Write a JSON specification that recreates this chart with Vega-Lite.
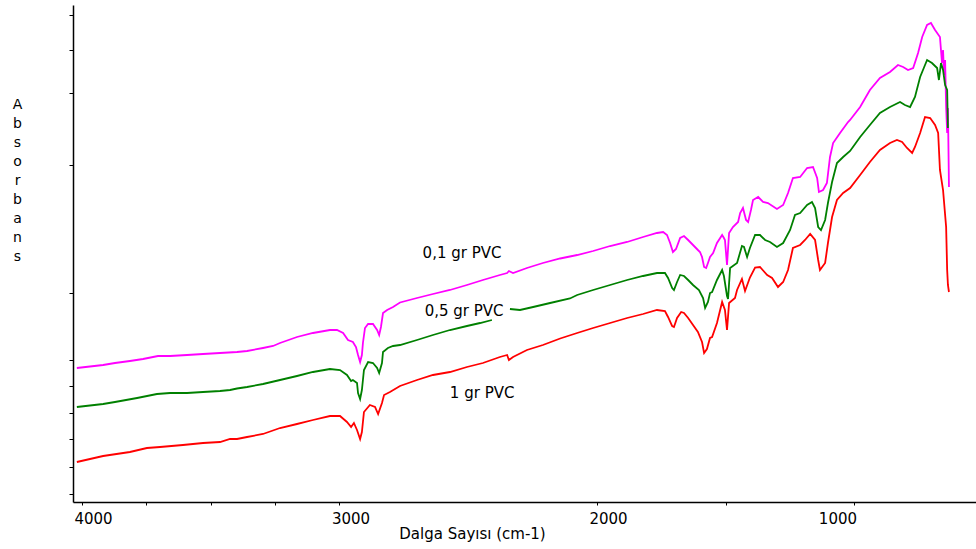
{
  "$schema": "https://vega.github.io/schema/vega-lite/v6.json",
  "width": 903,
  "height": 497,
  "autosize": "none",
  "padding": {"left": 73, "top": 5, "right": 0, "bottom": 47},
  "background": "white",
  "config": {"view": {"stroke": null}, "font": "DejaVu Sans"},
  "datasets": {
    "magenta": [
      {"wn":4020,"abs":134},{"wn":3918,"abs":137},{"wn":3872,"abs":139},{"wn":3814,"abs":141},{"wn":3763,"abs":143},{"wn":3705,"abs":146},{"wn":3658,"abs":146},{"wn":3592,"abs":147},{"wn":3530,"abs":148},{"wn":3464,"abs":149},{"wn":3398,"abs":150},{"wn":3359,"abs":151},{"wn":3297,"abs":154},{"wn":3258,"abs":156},{"wn":3231,"abs":159},{"wn":3165,"abs":165},{"wn":3103,"abs":169},{"wn":3037,"abs":172},{"wn":3010,"abs":172},{"wn":2986,"abs":169},{"wn":2967,"abs":162},{"wn":2948,"abs":160},{"wn":2936,"abs":155},{"wn":2928,"abs":147},{"wn":2920,"abs":140},{"wn":2913,"abs":147},{"wn":2909,"abs":159},{"wn":2901,"abs":174},{"wn":2889,"abs":178},{"wn":2870,"abs":178},{"wn":2854,"abs":172},{"wn":2846,"abs":167},{"wn":2839,"abs":175},{"wn":2831,"abs":189},{"wn":2815,"abs":192},{"wn":2792,"abs":195},{"wn":2765,"abs":199.5},{"wn":2699,"abs":204},{"wn":2637,"abs":208},{"wn":2571,"abs":212},{"wn":2505,"abs":217},{"wn":2443,"abs":222},{"wn":2377,"abs":227},{"wn":2349,"abs":229},{"wn":2342,"abs":231},{"wn":2326,"abs":229},{"wn":2272,"abs":234},{"wn":2210,"abs":239},{"wn":2143,"abs":243.5},{"wn":2077,"abs":247},{"wn":2015,"abs":251},{"wn":1949,"abs":256},{"wn":1883,"abs":260},{"wn":1821,"abs":265},{"wn":1767,"abs":269},{"wn":1743,"abs":270},{"wn":1728,"abs":267},{"wn":1716,"abs":259},{"wn":1705,"abs":250},{"wn":1693,"abs":253},{"wn":1677,"abs":264},{"wn":1662,"abs":266},{"wn":1646,"abs":262},{"wn":1627,"abs":257},{"wn":1608,"abs":252},{"wn":1600,"abs":250},{"wn":1592,"abs":245},{"wn":1584,"abs":235},{"wn":1576,"abs":234},{"wn":1569,"abs":239},{"wn":1561,"abs":245},{"wn":1549,"abs":249},{"wn":1534,"abs":259},{"wn":1514,"abs":267},{"wn":1507,"abs":264},{"wn":1503,"abs":262},{"wn":1495,"abs":237},{"wn":1487,"abs":269},{"wn":1472,"abs":275},{"wn":1452,"abs":280},{"wn":1444,"abs":289},{"wn":1433,"abs":294},{"wn":1421,"abs":282},{"wn":1413,"abs":280},{"wn":1402,"abs":292},{"wn":1394,"abs":302},{"wn":1374,"abs":305},{"wn":1355,"abs":300},{"wn":1336,"abs":299},{"wn":1301,"abs":293},{"wn":1277,"abs":297},{"wn":1258,"abs":309},{"wn":1239,"abs":324},{"wn":1211,"abs":325},{"wn":1184,"abs":334},{"wn":1161,"abs":335},{"wn":1145,"abs":324},{"wn":1138,"abs":310},{"wn":1122,"abs":312},{"wn":1107,"abs":319},{"wn":1095,"abs":345},{"wn":1083,"abs":359},{"wn":1056,"abs":369},{"wn":1025,"abs":380},{"wn":1017,"abs":382},{"wn":978,"abs":395},{"wn":940,"abs":412},{"wn":901,"abs":424},{"wn":862,"abs":430},{"wn":831,"abs":437},{"wn":811,"abs":435},{"wn":792,"abs":432},{"wn":772,"abs":434},{"wn":753,"abs":449},{"wn":737,"abs":465},{"wn":718,"abs":477},{"wn":703,"abs":479},{"wn":687,"abs":472},{"wn":668,"abs":465},{"wn":664,"abs":452},{"wn":660,"abs":439},{"wn":656,"abs":452},{"wn":652,"abs":427},{"wn":648,"abs":442},{"wn":644,"abs":395},{"wn":640,"abs":369},{"wn":637,"abs":394},{"wn":633,"abs":315}
    ],
    "green_a": [
      {"wn":4020,"abs":95},{"wn":3918,"abs":98},{"wn":3872,"abs":100},{"wn":3786,"abs":104},{"wn":3709,"abs":108},{"wn":3658,"abs":109},{"wn":3592,"abs":109},{"wn":3530,"abs":110},{"wn":3464,"abs":111},{"wn":3425,"abs":112},{"wn":3398,"abs":113.5},{"wn":3359,"abs":115},{"wn":3297,"abs":118},{"wn":3231,"abs":122},{"wn":3165,"abs":126},{"wn":3103,"abs":130},{"wn":3037,"abs":133},{"wn":2998,"abs":132},{"wn":2971,"abs":127},{"wn":2955,"abs":121},{"wn":2948,"abs":122},{"wn":2932,"abs":119},{"wn":2928,"abs":109},{"wn":2920,"abs":103},{"wn":2913,"abs":112},{"wn":2905,"abs":132},{"wn":2889,"abs":140},{"wn":2870,"abs":139},{"wn":2854,"abs":134},{"wn":2846,"abs":129},{"wn":2835,"abs":139},{"wn":2831,"abs":150},{"wn":2812,"abs":154},{"wn":2792,"abs":156},{"wn":2765,"abs":157},{"wn":2699,"abs":162},{"wn":2637,"abs":167},{"wn":2571,"abs":172},{"wn":2505,"abs":176},{"wn":2454,"abs":179},{"wn":2408,"abs":182}
    ],
    "green_b": [
      {"wn":2338,"abs":193},{"wn":2299,"abs":192},{"wn":2248,"abs":195},{"wn":2182,"abs":199},{"wn":2105,"abs":203.5},{"wn":2077,"abs":207},{"wn":2015,"abs":212},{"wn":1949,"abs":217},{"wn":1883,"abs":222},{"wn":1821,"abs":226},{"wn":1767,"abs":229},{"wn":1736,"abs":229},{"wn":1724,"abs":224},{"wn":1708,"abs":214},{"wn":1701,"abs":212},{"wn":1689,"abs":220},{"wn":1677,"abs":227},{"wn":1662,"abs":226},{"wn":1646,"abs":222},{"wn":1627,"abs":217},{"wn":1604,"abs":212},{"wn":1588,"abs":204},{"wn":1580,"abs":194},{"wn":1569,"abs":200},{"wn":1561,"abs":209},{"wn":1553,"abs":210},{"wn":1534,"abs":222},{"wn":1514,"abs":232},{"wn":1507,"abs":226},{"wn":1495,"abs":206},{"wn":1491,"abs":203},{"wn":1483,"abs":234},{"wn":1456,"abs":239},{"wn":1437,"abs":256},{"wn":1429,"abs":255},{"wn":1417,"abs":245},{"wn":1406,"abs":254},{"wn":1386,"abs":267},{"wn":1367,"abs":267},{"wn":1347,"abs":262},{"wn":1328,"abs":260},{"wn":1301,"abs":255},{"wn":1277,"abs":259},{"wn":1250,"abs":272},{"wn":1231,"abs":287},{"wn":1211,"abs":289},{"wn":1184,"abs":297},{"wn":1165,"abs":300},{"wn":1153,"abs":294},{"wn":1141,"abs":275},{"wn":1130,"abs":272},{"wn":1114,"abs":282},{"wn":1103,"abs":299},{"wn":1087,"abs":320},{"wn":1068,"abs":339},{"wn":1044,"abs":345},{"wn":1017,"abs":351},{"wn":978,"abs":365},{"wn":940,"abs":377},{"wn":901,"abs":389},{"wn":862,"abs":395},{"wn":823,"abs":400},{"wn":804,"abs":397},{"wn":784,"abs":395},{"wn":765,"abs":405},{"wn":745,"abs":425},{"wn":726,"abs":437},{"wn":718,"abs":442},{"wn":699,"abs":439},{"wn":679,"abs":434},{"wn":672,"abs":422},{"wn":664,"abs":439},{"wn":656,"abs":432},{"wn":648,"abs":417},{"wn":640,"abs":412},{"wn":637,"abs":374}
    ],
    "red": [
      {"wn":4020,"abs":40},{"wn":3918,"abs":46},{"wn":3814,"abs":50},{"wn":3748,"abs":54},{"wn":3697,"abs":55},{"wn":3608,"abs":57},{"wn":3530,"abs":59},{"wn":3464,"abs":60},{"wn":3425,"abs":63},{"wn":3398,"abs":63},{"wn":3359,"abs":65},{"wn":3297,"abs":68},{"wn":3231,"abs":74},{"wn":3165,"abs":78},{"wn":3103,"abs":82},{"wn":3037,"abs":86},{"wn":2998,"abs":86},{"wn":2971,"abs":80},{"wn":2955,"abs":75},{"wn":2944,"abs":79},{"wn":2932,"abs":72},{"wn":2920,"abs":63},{"wn":2913,"abs":70},{"wn":2905,"abs":90},{"wn":2882,"abs":97},{"wn":2862,"abs":95},{"wn":2850,"abs":88},{"wn":2835,"abs":99},{"wn":2827,"abs":107},{"wn":2804,"abs":110},{"wn":2765,"abs":116},{"wn":2699,"abs":122},{"wn":2637,"abs":127},{"wn":2571,"abs":130},{"wn":2505,"abs":135},{"wn":2443,"abs":139},{"wn":2377,"abs":145},{"wn":2349,"abs":147},{"wn":2342,"abs":142},{"wn":2326,"abs":145},{"wn":2272,"abs":152},{"wn":2210,"abs":157},{"wn":2143,"abs":163.5},{"wn":2077,"abs":169},{"wn":2015,"abs":174},{"wn":1949,"abs":179},{"wn":1883,"abs":184},{"wn":1821,"abs":188},{"wn":1767,"abs":192},{"wn":1736,"abs":191},{"wn":1724,"abs":185},{"wn":1708,"abs":176},{"wn":1701,"abs":175},{"wn":1689,"abs":184},{"wn":1673,"abs":190},{"wn":1662,"abs":189},{"wn":1646,"abs":184},{"wn":1627,"abs":177},{"wn":1608,"abs":170},{"wn":1592,"abs":160},{"wn":1584,"abs":149},{"wn":1573,"abs":153},{"wn":1561,"abs":164},{"wn":1553,"abs":165},{"wn":1534,"abs":179},{"wn":1514,"abs":200},{"wn":1503,"abs":192},{"wn":1495,"abs":172},{"wn":1487,"abs":199},{"wn":1464,"abs":204},{"wn":1456,"abs":212},{"wn":1437,"abs":223},{"wn":1425,"abs":211},{"wn":1406,"abs":224.5},{"wn":1386,"abs":234.5},{"wn":1367,"abs":235},{"wn":1339,"abs":227},{"wn":1320,"abs":224},{"wn":1297,"abs":215},{"wn":1277,"abs":220},{"wn":1258,"abs":232},{"wn":1239,"abs":254},{"wn":1211,"abs":257},{"wn":1192,"abs":262},{"wn":1172,"abs":268},{"wn":1153,"abs":262},{"wn":1141,"abs":242},{"wn":1134,"abs":232},{"wn":1114,"abs":239},{"wn":1103,"abs":259},{"wn":1087,"abs":285},{"wn":1068,"abs":302},{"wn":1044,"abs":309},{"wn":1017,"abs":314},{"wn":978,"abs":327},{"wn":940,"abs":340},{"wn":901,"abs":352},{"wn":862,"abs":359},{"wn":835,"abs":362},{"wn":815,"abs":360},{"wn":796,"abs":354},{"wn":776,"abs":349},{"wn":765,"abs":355},{"wn":745,"abs":369},{"wn":726,"abs":385},{"wn":706,"abs":384},{"wn":687,"abs":377},{"wn":675,"abs":369},{"wn":668,"abs":332},{"wn":656,"abs":312},{"wn":644,"abs":275},{"wn":640,"abs":232},{"wn":637,"abs":217},{"wn":633,"abs":210}
    ],
    "labels": [
      {"wn": 2524, "abs": 249, "label": "0,1 gr PVC"},
      {"wn": 2516, "abs": 191, "label": "0,5 gr PVC"},
      {"wn": 2446, "abs": 109, "label": "1 gr PVC"}
    ]
  },
  "layer": [
    {
      "data": {"name": "magenta"},
      "mark": {"type": "line", "strokeWidth": 1.8, "color": "#ff00ff"},
      "encoding": {
        "x": {"field": "wn", "type": "quantitative",
          "scale": {"domain": [528, 4035], "reverse": true, "nice": false, "zero": false},
          "axis": {
            "values": [4000, 3750, 3500, 3250, 3000, 2000, 1500, 1000],
            "labelExpr": "datum.value % 1000 == 0 ? '' + datum.value : ''",
            "grid": false,
            "domainColor": "#000", "domainWidth": 1.5,
            "tickColor": "#000", "tickSize": 3,
            "labelFont": "DejaVu Sans", "labelFontSize": 15, "labelColor": "#000",
            "labelPadding": 6,
            "labelOffset": {"condition": {"test": "datum.value == 1000", "value": -17}, "value": 11},
            "title": "Dalga Sayısı (cm-1)",
            "titleFont": "DejaVu Sans", "titleFontSize": 15, "titleFontWeight": "normal", "titleColor": "#000",
            "titleX": 399, "titleY": 31, "titleAlign": "center", "titleBaseline": "middle", "titleAnchor": null
          }
        },
        "y": {"field": "abs", "type": "quantitative",
          "scale": {"domain": [0, 497], "nice": false, "zero": false},
          "axis": {
            "values": [487, 480, 472, 462, 452, 440, 430, 419, 409, 399, 389, 382, 337, 312, 280, 249, 209, 185, 154, 149, 142, 136, 129, 122, 116, 109, 102, 95, 89, 83, 76, 69, 63, 56, 49, 42, 35, 29, 22, 15, 8],
            "labels": false, "grid": false,
            "domainColor": "#000", "domainWidth": 1.5,
            "tickColor": "#000", "tickSize": 4,
            "title": ["A", "b", "s", "o", "r", "b", "a", "n", "s"],
            "titleAngle": 0, "titleFont": "DejaVu Sans", "titleFontSize": 14, "titleFontWeight": "normal", "titleColor": "#000",
            "titleLineHeight": 19, "titleX": -56, "titleY": 92, "titleAlign": "center", "titleBaseline": "top", "titleAnchor": null
          }
        }
      }
    },
    {
      "data": {"name": "green_a"},
      "mark": {"type": "line", "strokeWidth": 1.8, "color": "#008000"},
      "encoding": {
        "x": {"field": "wn", "type": "quantitative"},
        "y": {"field": "abs", "type": "quantitative"}
      }
    },
    {
      "data": {"name": "green_b"},
      "mark": {"type": "line", "strokeWidth": 1.8, "color": "#008000"},
      "encoding": {
        "x": {"field": "wn", "type": "quantitative"},
        "y": {"field": "abs", "type": "quantitative"}
      }
    },
    {
      "data": {"name": "red"},
      "mark": {"type": "line", "strokeWidth": 1.8, "color": "#ff0000"},
      "encoding": {
        "x": {"field": "wn", "type": "quantitative"},
        "y": {"field": "abs", "type": "quantitative"}
      }
    },
    {
      "data": {"name": "labels"},
      "mark": {"type": "text", "font": "DejaVu Sans", "fontSize": 15, "color": "#000"},
      "encoding": {
        "x": {"field": "wn", "type": "quantitative"},
        "y": {"field": "abs", "type": "quantitative"},
        "text": {"field": "label"}
      }
    }
  ]
}
